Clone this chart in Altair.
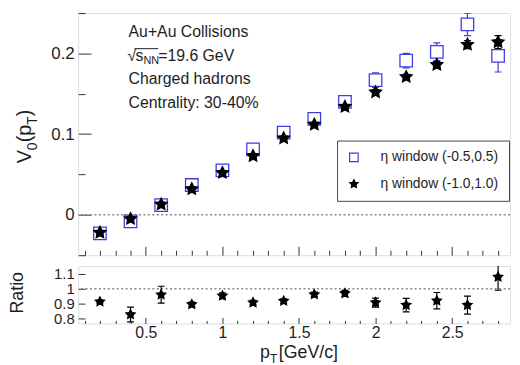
import altair as alt
import pandas as pd

# ---------------- data ----------------
pt = [0.2, 0.4, 0.6, 0.8, 1.0, 1.2, 1.4, 1.6, 1.8, 2.0, 2.2, 2.4, 2.6, 2.8]
v0_eta05 = [-0.023, -0.008, 0.012, 0.037, 0.055, 0.081, 0.102, 0.119, 0.140, 0.167, 0.191, 0.202, 0.236, 0.197]
v0_eta05_err = [0.002, 0.002, 0.002, 0.002, 0.003, 0.003, 0.003, 0.004, 0.004, 0.009, 0.009, 0.011, 0.014, 0.020]
v0_eta10 = [-0.022, -0.005, 0.013, 0.032, 0.052, 0.073, 0.095, 0.112, 0.134, 0.152, 0.171, 0.186, 0.211, 0.214]
v0_eta10_err = [0.001, 0.001, 0.002, 0.002, 0.002, 0.002, 0.002, 0.003, 0.003, 0.003, 0.003, 0.004, 0.005, 0.008]
ratio = [0.913, 0.827, 0.960, 0.895, 0.953, 0.907, 0.918, 0.962, 0.969, 0.907, 0.890, 0.920, 0.890, 1.080]
ratio_err = [0.010, 0.050, 0.057, 0.015, 0.020, 0.015, 0.015, 0.015, 0.020, 0.030, 0.045, 0.055, 0.060, 0.090]

series_names = ["η window (-0.5,0.5)", "η window (-1.0,1.0)"]
info_lines = ["Au+Au Collisions", "Charged hadrons", "Centrality: 30-40%"]
energy_parts = ["√", "s", "NN", "=19.6 GeV"]
ytitle_parts = ["V", "0", "(p", "T", ")"]
xtitle_parts = ["p", "T", "[GeV/c]"]
ratio_title = ["Ratio"]

x_major = [0.5, 1.0, 1.5, 2.0, 2.5]
x_minor = [0.1, 0.2, 0.3, 0.4, 0.6, 0.7, 0.8, 0.9, 1.1, 1.2, 1.3, 1.4, 1.6, 1.7, 1.8, 1.9,
           2.1, 2.2, 2.3, 2.4, 2.6, 2.7, 2.8]
y_major = [0.0, 0.1, 0.2]
y_minor = [-0.05, 0.05, 0.15, 0.25]
r_major = [0.8, 0.9, 1.0, 1.1]
zero_line = [0.0]
unity_line = [1.0]

# ---------------- styling ----------------
FONT = "Liberation Sans"
TXT = "#1e1e1e"
BLUE = "#3d3de6"
STAR = ("M0,-1L0.294,-0.405L0.951,-0.309L0.476,0.155L0.588,0.809L0,0.5"
        "L-0.588,0.809L-0.476,0.155L-0.951,-0.309L-0.294,-0.405Z")
W = 437
H_TOP = 245
H_BOT = 58

xs = alt.Scale(domain=[0.058, 2.878], nice=False, zero=False)
ys_top = alt.Scale(domain=[-0.05, 0.25], nice=False, zero=False)
ys_bot = alt.Scale(domain=[0.767, 1.153], nice=False, zero=False)

top_df = pd.DataFrame({
    "pt": pt + pt,
    "v": v0_eta05 + v0_eta10,
    "err": v0_eta05_err + v0_eta10_err,
    "series": [series_names[0]] * len(pt) + [series_names[1]] * len(pt),
})
bot_df = pd.DataFrame({"pt": pt, "r": ratio, "err": ratio_err})


def ax(orient, values, size, labels=False, pad=3, fs=17):
    kw = dict(orient=orient, values=values, tickSize=size, offset=-size, title=None,
              labels=labels, domain=False, grid=False, ticks=True, tickColor="#333",
              tickWidth=1)
    if labels:
        kw.update(format="~g", labelFontSize=fs, labelFont=FONT, labelColor=TXT,
                  labelPadding=pad, labelOverlap=False, labelBound=False)
    return alt.Axis(**kw)


def txt(s, x, y, size, dx=0, dy=0, angle=0, align="left"):
    return alt.Chart(alt.Data(values=[{"t": s}])).mark_text(
        font=FONT, fontSize=size, color=TXT, align=align, baseline="alphabetic",
        angle=angle, dx=dx, dy=dy
    ).encode(x=alt.value(x), y=alt.value(y), text="t:N")


leg = alt.Legend(title=None, orient="none", legendX=262, legendY=129,
                 fillColor="white", strokeColor="#444", padding=10,
                 symbolSize=75, symbolStrokeWidth=1.2, labelFontSize=14,
                 labelFont=FONT, labelColor=TXT, rowPadding=13, labelOffset=20)

base_top = alt.Chart(top_df).transform_calculate(
    lo="datum.v - datum.err", hi="datum.v + datum.err")

zero_rule = alt.Chart(pd.DataFrame({"y": zero_line})).mark_rule(
    color="#888", strokeDash=[2, 2.5], strokeWidth=1.5
).encode(y=alt.Y("y:Q", scale=ys_top, axis=None))

layers_top = [zero_rule]
for i, col in enumerate([BLUE, "black"]):
    b = base_top.transform_filter(alt.datum.series == series_names[i])
    layers_top.append(
        b.mark_rule(color=col, strokeWidth=1.2, clip=True).encode(
            x=alt.X("pt:Q", scale=xs, axis=ax("bottom", x_minor, 5) if i == 0 else None),
            y=alt.Y("lo:Q", scale=ys_top, axis=ax("left", y_minor, 7) if i == 0 else None),
            y2="hi:Q"))
    layers_top.append(
        b.transform_fold(["lo", "hi"], as_=["end", "cap"]).mark_tick(
            orient="horizontal", size=7, thickness=1.2, color=col, opacity=1, clip=True
        ).encode(x=alt.X("pt:Q", scale=xs, axis=None),
                 y=alt.Y("cap:Q", scale=ys_top, axis=None)))

points_top = base_top.mark_point(filled=True, opacity=1, strokeWidth=1.3, size=160,
                                 clip=True).encode(
    x=alt.X("pt:Q", scale=xs, axis=ax("bottom", x_major, 9)),
    y=alt.Y("v:Q", scale=ys_top, axis=ax("left", y_major, 13, labels=True, pad=4)),
    shape=alt.Shape("series:N", scale=alt.Scale(domain=series_names, range=["square", STAR]), legend=leg),
    fill=alt.Fill("series:N", scale=alt.Scale(domain=series_names, range=["white", "black"]), legend=leg),
    stroke=alt.Stroke("series:N", scale=alt.Scale(domain=series_names, range=[BLUE, "black"]), legend=leg),
)
layers_top.append(points_top)

# info text block
layers_top += [
    txt(info_lines[0], 51, 24, 16),
    txt(energy_parts[0], 50, 48, 16),
    txt(energy_parts[1], 58, 48, 16),
    txt(energy_parts[2], 66, 52, 11),
    txt(energy_parts[3], 81, 48, 16),
    alt.Chart(alt.Data(values=[{}])).mark_rule(color=TXT, strokeWidth=1).encode(
        x=alt.value(57), x2=alt.value(81), y=alt.value(36)),
    txt(info_lines[1], 51, 72, 16),
    txt(info_lines[2], 51, 96, 16),
]
# y title V0(pT), rotated
yx, yy = -48, 152
layers_top += [
    txt(ytitle_parts[0], yx, yy, 20, dx=0, angle=270),
    txt(ytitle_parts[1], yx, yy, 14, dx=13.3, dy=6, angle=270),
    txt(ytitle_parts[2], yx, yy, 20, dx=21.3, angle=270),
    txt(ytitle_parts[3], yx, yy, 14, dx=39.1, dy=6, angle=270),
    txt(ytitle_parts[4], yx, yy, 20, dx=47.7, angle=270),
]

top = alt.layer(*layers_top).properties(width=W, height=H_TOP).resolve_axis(
    x="independent", y="independent")

# ---------------- ratio panel ----------------
base_bot = alt.Chart(bot_df).transform_calculate(
    lo="datum.r - datum.err", hi="datum.r + datum.err")
unity_rule = alt.Chart(pd.DataFrame({"y": unity_line})).mark_rule(
    color="#888", strokeDash=[2, 2.5], strokeWidth=1.5
).encode(y=alt.Y("y:Q", scale=ys_bot, axis=None))
err_bot = base_bot.mark_rule(color="black", strokeWidth=1.2, clip=True).encode(
    x=alt.X("pt:Q", scale=xs, axis=ax("bottom", x_minor, 3)),
    y=alt.Y("lo:Q", scale=ys_bot, axis=None),
    y2="hi:Q")
caps_bot = base_bot.transform_fold(["lo", "hi"], as_=["end", "cap"]).mark_tick(
    orient="horizontal", size=7, thickness=1.2, color="black", opacity=1, clip=True
).encode(x=alt.X("pt:Q", scale=xs, axis=None), y=alt.Y("cap:Q", scale=ys_bot, axis=None))
pts_bot = base_bot.mark_point(shape=STAR, filled=True, color="black", opacity=1,
                              size=160, clip=True).encode(
    x=alt.X("pt:Q", scale=xs, axis=ax("bottom", x_major, 6, labels=True, pad=1, fs=16)),
    y=alt.Y("r:Q", scale=ys_bot, axis=ax("left", r_major, 7, labels=True, pad=4, fs=15)))

bottom = alt.layer(
    unity_rule, err_bot, caps_bot, pts_bot,
    txt(ratio_title[0], -56, 27, 18, angle=270, align="center"),
    txt(xtitle_parts[0], 184, 93, 18),
    txt(xtitle_parts[1], 184, 93, 12, dx=10, dy=5),
    txt(xtitle_parts[2], 203, 93, 18),
).properties(width=W, height=H_BOT).resolve_axis(x="independent", y="independent")

chart = alt.vconcat(top, bottom, spacing=9).resolve_scale(
    x="independent", y="independent", shape="independent", fill="independent",
    stroke="independent"
).properties(
    padding={"left": 0, "top": 2, "right": 0, "bottom": 0}
).configure_view(stroke="#444", strokeWidth=1.2).configure(background="white")

chart.save("out.html", embed_options={"renderer": "svg", "actions": False})
